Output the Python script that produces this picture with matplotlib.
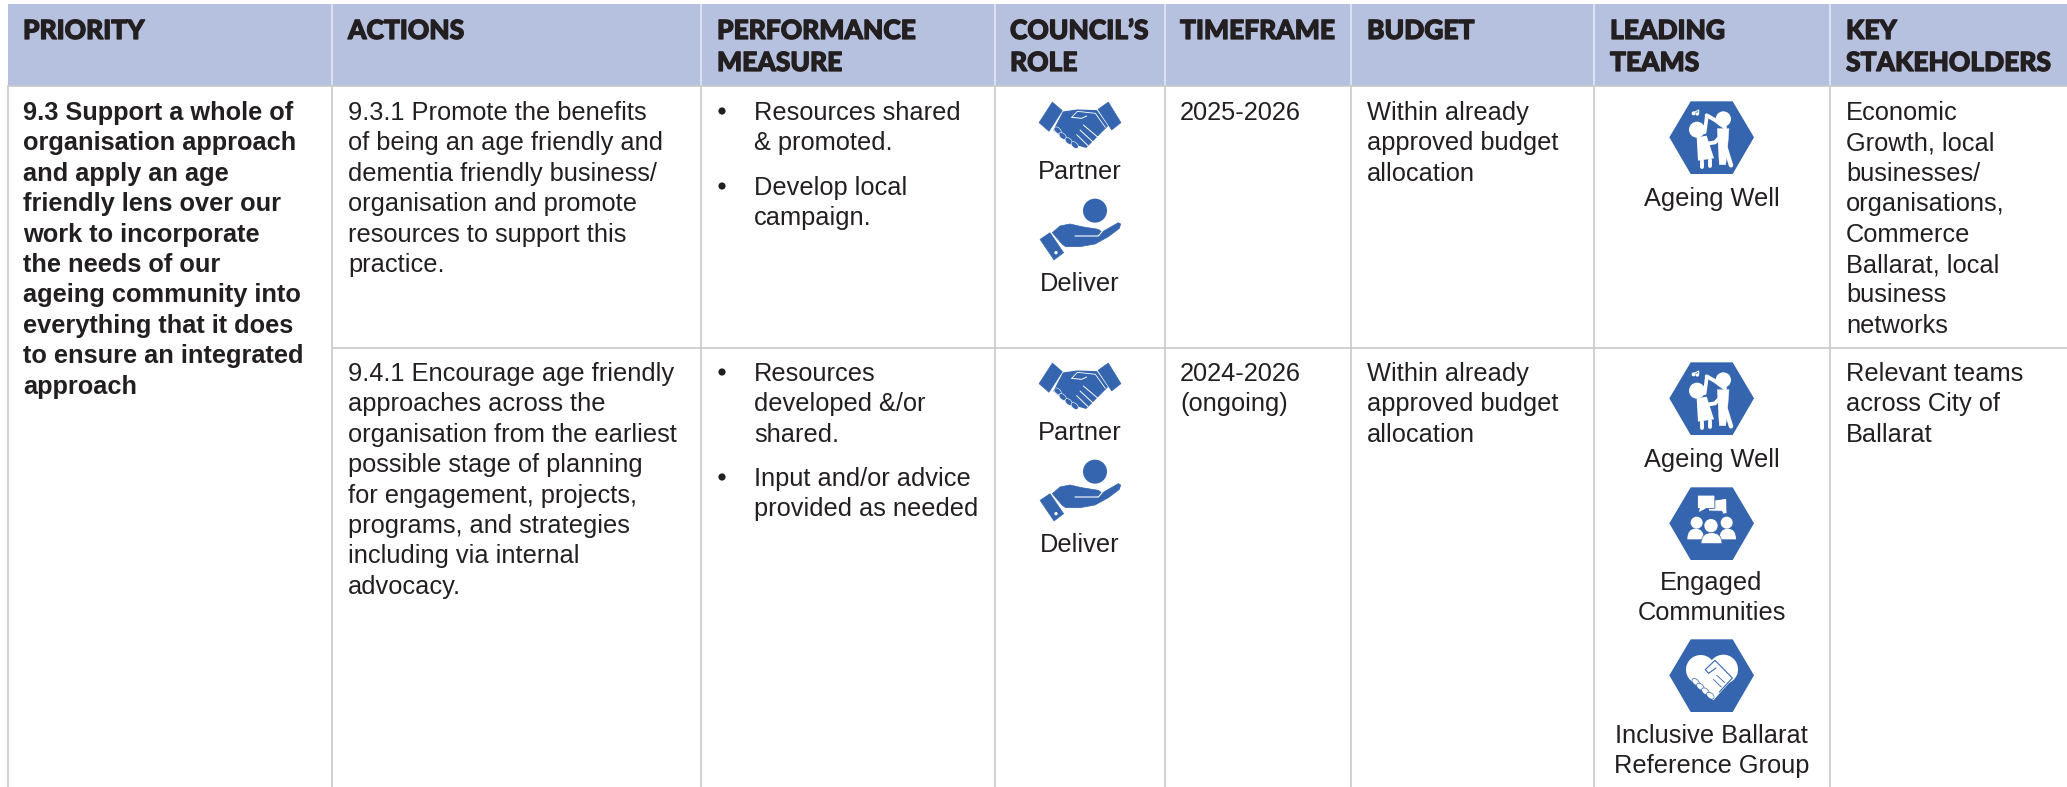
import matplotlib
matplotlib.use("Agg")
import matplotlib.pyplot as plt
import matplotlib.patheffects as pe
from matplotlib.patches import Polygon, Circle, Rectangle, PathPatch, Ellipse, FancyBboxPatch
from matplotlib.path import Path

# ---------- content ----------
headers = [["PRIORITY"], ["ACTIONS"], ["PERFORMANCE", "MEASURE"], ["COUNCIL’S", "ROLE"],
           ["TIMEFRAME"], ["BUDGET"], ["LEADING", "TEAMS"], ["KEY", "STAKEHOLDERS"]]
priority = ["9.3 Support a whole of", "organisation approach", "and apply an age",
            "friendly lens over our", "work to incorporate", "the needs of our",
            "ageing community into", "everything that it does", "to ensure an integrated", "approach"]
actions_1 = ["9.3.1 Promote the benefits", "of being an age friendly and",
             "dementia friendly business/", "organisation and promote",
             "resources to support this", "practice."]
actions_2 = ["9.4.1 Encourage age friendly", "approaches across the",
             "organisation from the earliest", "possible stage of planning",
             "for engagement, projects,", "programs, and strategies",
             "including via internal", "advocacy."]
measures_1 = [["Resources shared", "& promoted."], ["Develop local", "campaign."]]
measures_2 = [["Resources", "developed &/or", "shared."], ["Input and/or advice", "provided as needed"]]
roles = ["Partner", "Deliver"]
timeframe_1 = ["2025-2026"]
timeframe_2 = ["2024-2026", "(ongoing)"]
budget = ["Within already", "approved budget", "allocation"]
teams_2 = [["Ageing Well"], ["Engaged", "Communities"], ["Inclusive Ballarat", "Reference Group"]]
stakeholders_1 = ["Economic", "Growth, local", "businesses/", "organisations,", "Commerce",
                  "Ballarat, local", "business", "networks"]
stakeholders_2 = ["Relevant teams", "across City of", "Ballarat"]

# ---------- layout (pixels of the 2067x787 canvas) ----------
W, H = 2067, 787
col_edges = [8, 332, 701, 995, 1165, 1351, 1594, 1830, 2067]
text_x = [23, 348, 717, 1010, 1180, 1367, 1610, 1846]
header_top, header_bottom, row_split = 4, 86, 348
LH = 30.4
row1_y, row2_y = 120, 381
BLUE = "#3565AE"; INK = "#231F20"; HEAD = "#B6C1DF"; GRID = "#C9CACC"; WHITE = "white"
BODY = "Liberation Sans"; BODY_SIZE = 18.3
HEAD_FONT = "Lato"; HEAD_SIZE = 19.0

fig = plt.figure(figsize=(W / 100, H / 100), dpi=100, facecolor="white")
ax = fig.add_axes([0, 0, 1, 1])
ax.set_xlim(0, W); ax.set_ylim(H, 0); ax.axis("off")


def block(x, y, lines, ha="left", weight="normal"):
    for i, s in enumerate(lines):
        ax.text(x, y + i * LH, s, family=BODY, fontsize=BODY_SIZE, color=INK, ha=ha,
                va="baseline", weight=weight)


# ---------- table frame ----------
ax.add_patch(Rectangle((col_edges[0], header_top), W - col_edges[0], header_bottom - header_top,
                       fc=HEAD, ec="none"))
for x in col_edges[:-1]:
    ax.plot([x, x], [header_bottom, H], color=GRID, lw=1.2, solid_capstyle="butt")
for x in col_edges[1:-1]:
    ax.plot([x, x], [header_top, header_bottom], color="#E4E8F3", lw=1.2, solid_capstyle="butt")
ax.plot([col_edges[0], W], [header_bottom, header_bottom], color=GRID, lw=1.3)
ax.plot([col_edges[1], W], [row_split, row_split], color=GRID, lw=1.2)

# ---------- header text ----------
for x, lines in zip(text_x, headers):
    for i, s in enumerate(lines):
        ax.text(x, 39 + i * 32, s, family=HEAD_FONT, weight="black", fontsize=HEAD_SIZE,
                color=INK, ha="left", va="baseline",
                path_effects=[pe.withStroke(linewidth=0.9, foreground=INK)])

# ---------- body text ----------
block(text_x[0], row1_y, priority, weight="bold")
block(text_x[1], row1_y, actions_1)
block(text_x[1], row2_y, actions_2)
for base, groups, gap in ((row1_y, measures_1, 75), (row2_y, measures_2, 105)):
    for k, g in enumerate(groups):
        y = base + k * gap
        ax.add_patch(Circle((722, y - 9), 3.6, fc=INK, ec="none"))
        block(754, y, g)
block(text_x[4], row1_y, timeframe_1)
block(text_x[4], row2_y, timeframe_2)
block(text_x[5], row1_y, budget)
block(text_x[5], row2_y, budget)
block(text_x[7], row1_y, stakeholders_1)
block(text_x[7], row2_y, stakeholders_2)

CX_ROLE, CX_TEAM = 1079.5, 1711.5
for dy in (0, 261):
    block(CX_ROLE, 179 + dy, [roles[0]], ha="center")
    block(CX_ROLE, 291 + dy, [roles[1]], ha="center")
block(CX_TEAM, 206, teams_2[0], ha="center")
block(CX_TEAM, 467, teams_2[0], ha="center")
block(CX_TEAM, 590, teams_2[1], ha="center")
block(CX_TEAM, 743, teams_2[2], ha="center")


# ---------- icons: glyphs drawn in crop units (3 units = 1 px) ----------
def T(ox, oy, pts):
    return [(ox + a / 3, oy + b / 3) for a, b in pts]


def P(ox, oy, pts, fc=BLUE, ec=None, lw=0, z=3):
    ax.add_patch(Polygon(T(ox, oy, pts), closed=True, fc=fc, ec=ec or fc, lw=lw,
                         joinstyle="round", zorder=z))


def L(ox, oy, pts, c=WHITE, lw=1.0, z=4):
    xy = T(ox, oy, pts)
    ax.plot([p[0] for p in xy], [p[1] for p in xy], color=c, lw=lw, zorder=z,
            solid_capstyle="round", solid_joinstyle="round")


def C(ox, oy, c, r, fc=WHITE, z=4):
    x, y = T(ox, oy, [c])[0]
    ax.add_patch(Circle((x, y), r / 3, fc=fc, ec="none", zorder=z))


def S(ox, oy, verts, codes, fc=WHITE, z=4):
    ax.add_patch(PathPatch(Path(T(ox, oy, verts), codes), fc=fc, ec="none", zorder=z))


def handshake(ox, oy):
    P(ox, oy, [(97, 36), (127, 62), (87, 124), (57, 98)], lw=0.4)
    P(ox, oy, [(265, 36), (303, 98), (275, 120), (234, 58)], lw=0.4)
    P(ox, oy, [(130, 66), (172, 60), (230, 62), (262, 108), (198, 172), (150, 158), (102, 120)], lw=0.8)
    L(ox, oy, [(155, 82), (172, 64), (226, 70), (256, 112)], lw=0.6)
    L(ox, oy, [(155, 82), (185, 85), (200, 78)], lw=0.7)
    L(ox, oy, [(190, 105), (234, 142)], lw=0.7)
    L(ox, oy, [(180, 120), (220, 157)], lw=0.7)
    L(ox, oy, [(170, 134), (204, 167)], lw=0.7)
    for a, b in ((113, 121), (128, 138), (146, 153), (164, 165)):
        ax.add_patch(Ellipse(T(ox, oy, [(a, b)])[0], 8.5, 5.2, angle=42, fc=BLUE, ec=WHITE, lw=0.4, zorder=5))


def coin_hand(ox, oy):
    C(ox, oy, (225, 362), 36, fc=BLUE)
    P(ox, oy, [(60, 448), (90, 428), (131, 488), (102, 510)], lw=0.4)
    C(ox, oy, (108, 488), 5)
    P(ox, oy, [(97, 428), (120, 408), (150, 402), (185, 410), (235, 418), (246, 426), (295, 398),
               (302, 402), (298, 415), (265, 440), (225, 462), (180, 470), (137, 470), (127, 463)], lw=0.5)
    L(ox, oy, [(165, 438), (235, 438), (247, 424)], lw=0.8)


def hexagon(ox, oy):
    P(ox, oy, [(28, 130), (92, 22), (218, 22), (282, 130), (218, 240), (92, 240)])


def hex_dance(ox, oy):
    hexagon(ox, oy)
    C(ox, oy, (190, 75), 23)
    P(ox, oy, [(172, 104), (207, 104), (202, 170), (197, 212), (178, 212)], fc=WHITE, lw=0.3, z=4)
    L(ox, oy, [(198, 165), (213, 214)], lw=3.2)
    L(ox, oy, [(195, 100), (165, 78), (140, 64)], lw=2.8)
    L(ox, oy, [(193, 115), (165, 145), (125, 152)], lw=2.8)
    L(ox, oy, [(140, 70), (134, 115)], lw=2.6)
    C(ox, oy, (111, 107), 24)
    P(ox, oy, [(110, 130), (140, 125), (162, 193), (114, 200)], fc=WHITE, z=4)
    L(ox, oy, [(125, 200), (125, 220)], lw=2.8)
    L(ox, oy, [(150, 198), (150, 216)], lw=2.8)
    L(ox, oy, [(103, 55), (116, 48), (116, 58)], lw=0.8)
    C(ox, oy, (101, 58), 6); C(ox, oy, (112, 60), 5)


def hex_people(ox, oy):
    hexagon(ox, oy)
    P(ox, oy, [(150, 62), (200, 55), (201, 100), (190, 103), (185, 94), (145, 93)], fc=WHITE, ec=BLUE, lw=0.7, z=4)
    ax.add_patch(FancyBboxPatch(T(ox, oy, [(116, 49)])[0], 15, 11, boxstyle="round,pad=1.2",
                                fc=WHITE, ec=BLUE, lw=0.6, zorder=5))
    P(ox, oy, [(120, 80), (117, 96), (138, 85)], fc=WHITE, z=5)
    M, Q = Path.MOVETO, Path.CURVE3
    for c, r, (x0, x1), y0, y1, z in (((110, 128), 18, (82, 132), 146, 178, 4),
                                      ((200, 128), 18, (178, 228), 146, 178, 4),
                                      ((153, 137), 20, (123, 186), 158, 191, 6)):
        C(ox, oy, c, r, z=z)
        xc = (x0 + x1) / 2
        ax.add_patch(PathPatch(Path(T(ox, oy, [(x0, y1), (x0, y0), (xc, y0), (x1, y0), (x1, y1), (x0, y1)]),
                                    [M, Q, Q, Q, Q, Path.CLOSEPOLY]),
                               fc=WHITE, ec=BLUE, lw=0.5 if z == 6 else 0, zorder=z))


def hex_heart(ox, oy):
    hexagon(ox, oy)
    C(ox, oy, (122, 113), 44); C(ox, oy, (190, 112), 44)
    P(ox, oy, [(80, 125), (233, 125), (160, 205)], fc=WHITE, z=4)
    L(ox, oy, [(136, 113), (165, 85), (217, 138), (178, 180)], c=BLUE, lw=0.8, z=5)
    L(ox, oy, [(136, 113), (146, 124), (168, 108)], c=BLUE, lw=0.8, z=5)
    L(ox, oy, [(170, 130), (195, 152)], c=BLUE, lw=0.6, z=5)
    L(ox, oy, [(160, 142), (184, 165)], c=BLUE, lw=0.6, z=5)
    for a, b in ((107, 150), (121, 164), (136, 178), (151, 191)):
        ax.add_patch(Ellipse(T(ox, oy, [(a, b)])[0], 8.5, 5.5, angle=40, fc=WHITE, ec=BLUE, lw=0.5, zorder=6))


for dy in (0, 261):
    handshake(1020, 90 + dy)
    coin_hand(1020, 90 + dy)
hex_dance(1660, 355 - 261)
hex_dance(1660, 355)
hex_people(1660, 480)
hex_heart(1660, 632)

fig.savefig("out.png", dpi=100)
